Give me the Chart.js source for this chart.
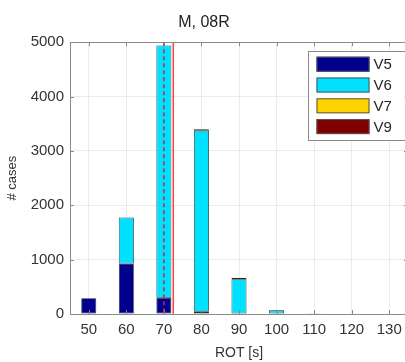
<!DOCTYPE html>
<html>
<head>
<meta charset="utf-8">
<script src="https://cdn.jsdelivr.net/npm/chart.js@4.4.1/dist/chart.umd.min.js"></script>
<style>
  html, body { margin: 0; padding: 0; background: #fff; overflow: hidden; }
  #wrap { position: relative; width: 412px; height: 362px; }
</style>
</head>
<body>
<div id="wrap"><canvas id="c"></canvas></div>
<script>
// ROT bins [s]
const rotBins = ['50', '60', '70', '80', '90', '100', '110', '120', '130'];

// number of cases per bin, stacked by class
const casesV5 = [290, 930, 300, 40, 8, 8, 15, 8, 8];
const casesV6 = [0, 847, 4640, 3330, 630, 62, 0, 0, 0];
const casesV7 = [0, 0, 0, 28, 28, 3, 0, 0, 0];
const casesV9 = [0, 0, 0, 4, 2, 0, 0, 0, 0];

const yTicks = [0, 1000, 2000, 3000, 4000, 5000];

// reference ROT values marked with vertical lines [s]
const dashedRef = 70;
const solidRef = 72.5;

const seriesColors = {
  V5: '#00008c',
  V6: '#00e1ff',
  V7: '#ffd200',
  V9: '#800000'
};

const FONT = '"Liberation Sans", Arial, Helvetica, sans-serif';

function rotToIndex(v) {
  return (v - Number(rotBins[0])) / (Number(rotBins[1]) - Number(rotBins[0]));
}

// axes box, inward ticks and reference lines
const boxPlugin = {
  id: 'boxPlugin',
  afterDatasetsDraw(chart) {
    const { ctx, chartArea: a, scales } = chart;
    const xs = scales.x, ys = scales.y;
    ctx.save();
    // reference lines
    ctx.lineWidth = 1.5;
    let px = xs.getPixelForValue(rotToIndex(dashedRef));
    ctx.strokeStyle = '#c8283a';
    ctx.setLineDash([4, 3]);
    ctx.beginPath(); ctx.moveTo(px, a.top); ctx.lineTo(px, a.bottom); ctx.stroke();
    px = xs.getPixelForValue(rotToIndex(solidRef));
    ctx.setLineDash([]);
    ctx.strokeStyle = '#ff4040';
    ctx.beginPath(); ctx.moveTo(px, a.top); ctx.lineTo(px, a.bottom); ctx.stroke();

    // box
    ctx.strokeStyle = '#8a8a8a';
    ctx.lineWidth = 1;
    ctx.strokeRect(Math.round(a.left) + 0.5, Math.round(a.top) + 0.5,
                   Math.round(a.right - a.left), Math.round(a.bottom - a.top));
    // inward ticks
    ctx.beginPath();
    rotBins.forEach((_, i) => {
      const x = Math.round(xs.getPixelForValue(i)) + 0.5;
      ctx.moveTo(x, a.bottom); ctx.lineTo(x, a.bottom - 4);
      ctx.moveTo(x, a.top); ctx.lineTo(x, a.top + 4);
    });
    yTicks.forEach(v => {
      const y = Math.round(ys.getPixelForValue(v)) + 0.5;
      ctx.moveTo(a.left, y); ctx.lineTo(a.left + 4, y);
      ctx.moveTo(a.right, y); ctx.lineTo(a.right - 4, y);
    });
    ctx.stroke();
    ctx.restore();
  }
};

// legend drawn inside the axes, upper right
const insideLegend = {
  id: 'insideLegend',
  afterDraw(chart) {
    const { ctx, chartArea: a } = chart;
    const right = a.right - 3.5, top = a.top + 9;
    const w = 97, h = 89;
    const left = right - w;
    ctx.save();
    ctx.fillStyle = '#fff';
    ctx.fillRect(left, top, w, h);
    ctx.strokeStyle = '#8a8a8a';
    ctx.lineWidth = 1;
    ctx.strokeRect(Math.round(left) + 0.5, Math.round(top) + 0.5, w, h);
    ctx.font = '15px ' + FONT;
    ctx.textBaseline = 'middle';
    chart.data.datasets.forEach((ds, i) => {
      const cy = top + 13 + i * 20.8;
      ctx.fillStyle = ds.backgroundColor;
      ctx.fillRect(left + 9, cy - 7.5, 53, 15);
      ctx.strokeStyle = '#555';
      ctx.strokeRect(left + 9.5, cy - 7, 52, 14);
      ctx.fillStyle = '#262626';
      ctx.fillText(ds.label, left + 66, cy + 1);
    });
    ctx.restore();
  }
};

const mk = (label, data) => ({
  label,
  data,
  backgroundColor: seriesColors[label],
  borderColor: '#2a2a2a',
  borderWidth: 0.8,
  borderSkipped: false,
  barPercentage: 0.4,
  categoryPercentage: 1.0
});

new Chart(document.getElementById('c'), {
  type: 'bar',
  data: {
    labels: rotBins,
    datasets: [
      mk('V5', casesV5),
      mk('V6', casesV6),
      mk('V7', casesV7),
      mk('V9', casesV9)
    ]
  },
  options: {
    responsive: true,
    maintainAspectRatio: false,
    animation: false,
    layout: { padding: { left: 0, right: 4, top: 0, bottom: 0 } },
    plugins: {
      legend: { display: false },
      tooltip: { enabled: false },
      title: {
        display: true,
        text: 'M, 08R',
        color: '#222',
        font: { family: FONT, size: 16, weight: 'normal' },
        padding: { top: 13, bottom: 10 }
      }
    },
    scales: {
      x: {
        stacked: true,
        offset: true,
        grid: { color: '#ebebeb', drawTicks: false, offset: false },
        border: { display: false },
        ticks: {
          color: '#333',
          font: { family: FONT, size: 15 },
          padding: 7,
          maxRotation: 0,
          autoSkip: false
        },
        title: {
          display: true,
          text: 'ROT [s]',
          color: '#333',
          font: { family: FONT, size: 14 },
          padding: { top: 1, bottom: 0 }
        },
        afterFit(s) { s.height = 48; }
      },
      y: {
        stacked: true,
        min: 0,
        max: 5000,
        afterBuildTicks(s) { s.ticks = yTicks.map(v => ({ value: v })); },
        grid: { color: '#ebebeb', drawTicks: false },
        border: { display: false },
        ticks: {
          color: '#333',
          font: { family: FONT, size: 15 },
          padding: 6,
          callback: v => String(v)
        },
        title: {
          display: true,
          text: '# cases',
          color: '#333',
          font: { family: FONT, size: 13 },
          padding: { top: 5, bottom: 8 }
        },
        afterFit(s) { s.width = 70; }
      }
    }
  },
  plugins: [boxPlugin, insideLegend]
});
</script>
</body>
</html>
